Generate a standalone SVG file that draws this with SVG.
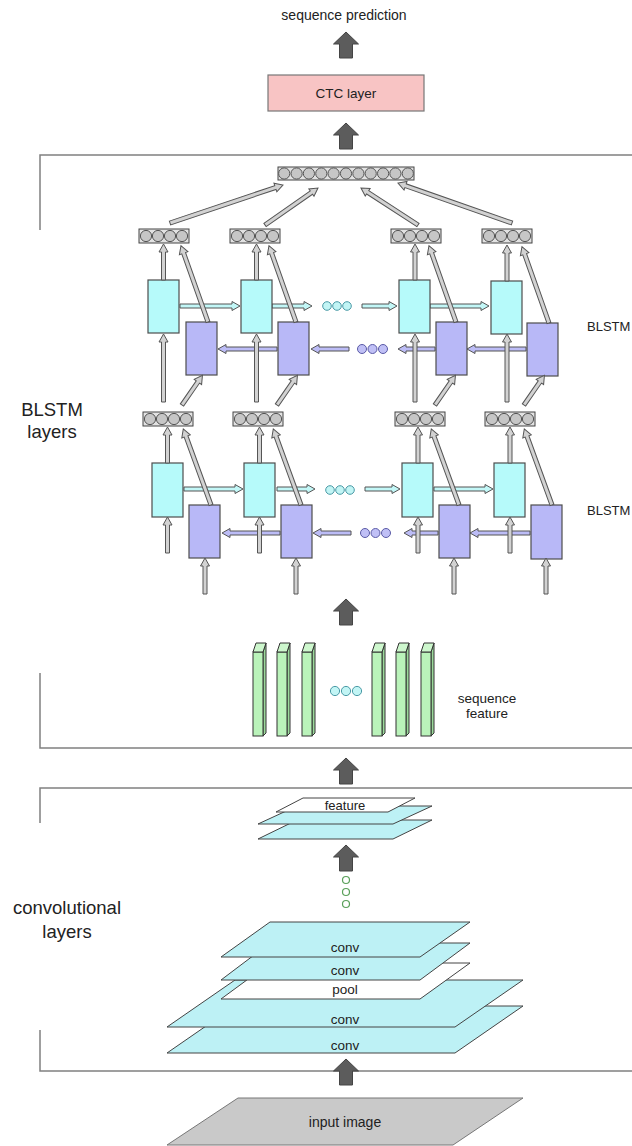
<svg xmlns="http://www.w3.org/2000/svg" xmlns:xlink="http://www.w3.org/1999/xlink" width="632" height="1146" viewBox="0 0 632 1146">
<style>
.t{font-family:"Liberation Sans",Arial,sans-serif;fill:#222;text-anchor:middle}
.ga{fill:#d2d2d2;stroke:#555;stroke-width:1}
.ca{fill:#c2f7f7;stroke:#555;stroke-width:1}
.pa{fill:#bcbcf6;stroke:#555;stroke-width:1}
.da{fill:#5c5c5c;stroke:#444;stroke-width:1}
.cc{fill:#b6fafa;stroke:#4d4d4d;stroke-width:1.2}
.pc{fill:#b8b8f7;stroke:#4d4d4d;stroke-width:1.2}
.vec{fill:#e2e2e2;stroke:#444;stroke-width:1}
.dot{fill:#c6c6c6;stroke:#555;stroke-width:1}
.fr{fill:none;stroke:#808080;stroke-width:1.5}
.plc{fill:#bdf1f5;stroke:#444;stroke-width:1}
.plw{fill:#fff;stroke:#444;stroke-width:1}
.gf{fill:#baf3ba;stroke:#333;stroke-width:1}
.gt{fill:#cdf7cd;stroke:#333;stroke-width:1}
.gs{fill:#9bd99b;stroke:#333;stroke-width:1}
.ce{fill:#c2f5f5;stroke:#4a9aa6;stroke-width:1}
.pe{fill:#c0c0f6;stroke:#5a5aa6;stroke-width:1}
.ge{fill:#fff;stroke:#5aa05a;stroke-width:1.2}
</style>
<defs>
<path id="darr" class="da" d="M-12.5 12L0 0L12.5 12H6.5V26H-6.5V12Z"/>
<path id="g36" class="ga" d="M0 -2H28V-4.5L36 0L28 4.5V2H0Z"/>
<path id="g68" class="ga" d="M0 -2H60V-4.5L68 0L60 4.5V2H0Z"/>
<path id="g81" class="ga" d="M0 -2H73V-4.5L81 0L73 4.5V2H0Z"/>
</defs>

<g id="frames">
<path class="fr" d="M40 230V155H632"/>
<path class="fr" d="M40 673V748H632"/>
<path class="fr" d="M40 823V788H632"/>
<path class="fr" d="M40 1030V1071H632"/>
</g>

<g id="labels">
<text class="t" x="344" y="20" font-size="14">sequence prediction</text>
<text class="t" x="52" y="416" font-size="18.5">BLSTM</text>
<text class="t" x="52" y="438" font-size="18.5">layers</text>
<text class="t" x="587" y="331" font-size="13" style="text-anchor:start">BLSTM</text>
<text class="t" x="587" y="515" font-size="13" style="text-anchor:start">BLSTM</text>
<text class="t" x="487" y="703" font-size="13.5">sequence</text>
<text class="t" x="487" y="718" font-size="13.5">feature</text>
<text class="t" x="67" y="914" font-size="18.5">convolutional</text>
<text class="t" x="67" y="938" font-size="18.5">layers</text>
</g>

<g id="ctc">
<rect x="268" y="75" width="156" height="36" fill="#f8c4c4" stroke="#777" stroke-width="1.2"/>
<text class="t" x="346" y="98" font-size="13.5">CTC layer</text>
</g>

<g id="bigArrows">
<use xlink:href="#darr" transform="translate(346 32)"/>
<use xlink:href="#darr" transform="translate(346 123)"/>
<use xlink:href="#darr" transform="translate(346 599)"/>
<use xlink:href="#darr" transform="translate(346 758)"/>
<use xlink:href="#darr" transform="translate(346 845)"/>
<use xlink:href="#darr" transform="translate(346 1059)"/>
</g>

<g id="recurrent">
<path class="ca" transform="translate(180 306)" d="M0 -2H52V-4.5L60 0L52 4.5V2H0Z"/>
<path class="ca" transform="translate(272 306)" d="M0 -2H32V-4.5L40 0L32 4.5V2H0Z"/>
<path class="ca" transform="translate(362 306)" d="M0 -2H27V-4.5L35 0L27 4.5V2H0Z"/>
<path class="ca" transform="translate(430 306)" d="M0 -2H51V-4.5L59 0L51 4.5V2H0Z"/>
<path class="pa" transform="translate(277 349) rotate(180)" d="M0 -2H51V-4.5L59 0L51 4.5V2H0Z"/>
<path class="pa" transform="translate(349 349) rotate(180)" d="M0 -2H30V-4.5L38 0L30 4.5V2H0Z"/>
<path class="pa" transform="translate(435 349) rotate(180)" d="M0 -2H29V-4.5L37 0L29 4.5V2H0Z"/>
<path class="pa" transform="translate(526 349) rotate(180)" d="M0 -2H51V-4.5L59 0L51 4.5V2H0Z"/>
<path class="ca" transform="translate(184 489)" d="M0 -2H51V-4.5L59 0L51 4.5V2H0Z"/>
<path class="ca" transform="translate(277 489)" d="M0 -2H30V-4.5L38 0L30 4.5V2H0Z"/>
<path class="ca" transform="translate(365 489)" d="M0 -2H27V-4.5L35 0L27 4.5V2H0Z"/>
<path class="ca" transform="translate(434 489)" d="M0 -2H51V-4.5L59 0L51 4.5V2H0Z"/>
<path class="pa" transform="translate(280 533) rotate(180)" d="M0 -2H50V-4.5L58 0L50 4.5V2H0Z"/>
<path class="pa" transform="translate(351 533) rotate(180)" d="M0 -2H30V-4.5L38 0L30 4.5V2H0Z"/>
<path class="pa" transform="translate(438 533) rotate(180)" d="M0 -2H26V-4.5L34 0L26 4.5V2H0Z"/>
<path class="pa" transform="translate(530 533) rotate(180)" d="M0 -2H52V-4.5L60 0L52 4.5V2H0Z"/>
</g>

<g id="ellipses">
<circle class="ce" cx="327" cy="306" r="4.3"/><circle class="ce" cx="337" cy="306" r="4.3"/><circle class="ce" cx="347" cy="306" r="4.3"/>
<circle class="pe" cx="362" cy="349" r="4.5"/><circle class="pe" cx="372.5" cy="349" r="4.5"/><circle class="pe" cx="383" cy="349" r="4.5"/>
<circle class="ce" cx="330" cy="490" r="4.3"/><circle class="ce" cx="340" cy="490" r="4.3"/><circle class="ce" cx="350" cy="490" r="4.3"/>
<circle class="pe" cx="365" cy="533" r="4.5"/><circle class="pe" cx="375.5" cy="533" r="4.5"/><circle class="pe" cx="386" cy="533" r="4.5"/>
<circle class="ce" cx="335" cy="691" r="4.6"/><circle class="ce" cx="346" cy="691" r="4.6"/><circle class="ce" cx="357" cy="691" r="4.6"/>
<circle class="ge" cx="346" cy="880" r="3.5"/><circle class="ge" cx="346" cy="892" r="3.5"/><circle class="ge" cx="346" cy="904" r="3.5"/>
</g>

<g id="cellsUpper">
<rect class="cc" x="148" y="280" width="31" height="53"/>
<rect class="cc" x="241" y="280" width="31" height="53"/>
<rect class="cc" x="399" y="280" width="31" height="53"/>
<rect class="cc" x="491" y="281" width="31" height="53"/>
<rect class="pc" x="186" y="322" width="31" height="53"/>
<rect class="pc" x="278" y="322" width="31" height="53"/>
<rect class="pc" x="436" y="322" width="31" height="53"/>
<rect class="pc" x="527" y="323" width="31" height="53"/>
</g>
<g id="cellsLower">
<rect class="cc" x="152" y="463" width="31" height="54"/>
<rect class="cc" x="244" y="463" width="31" height="54"/>
<rect class="cc" x="402" y="463" width="31" height="54"/>
<rect class="cc" x="494" y="463" width="31" height="54"/>
<rect class="pc" x="189" y="505" width="31" height="53"/>
<rect class="pc" x="281" y="505" width="31" height="53"/>
<rect class="pc" x="439" y="505" width="31" height="53"/>
<rect class="pc" x="531" y="505" width="31" height="54"/>
</g>

<g id="vecTop">
<rect class="vec" x="278" y="167" width="136" height="13"/>
<circle class="dot" cx="284.2" cy="173.5" r="5.6"/><circle class="dot" cx="296.6" cy="173.5" r="5.6"/><circle class="dot" cx="308.9" cy="173.5" r="5.6"/><circle class="dot" cx="321.3" cy="173.5" r="5.6"/><circle class="dot" cx="333.6" cy="173.5" r="5.6"/><circle class="dot" cx="346" cy="173.5" r="5.6"/><circle class="dot" cx="358.4" cy="173.5" r="5.6"/><circle class="dot" cx="370.7" cy="173.5" r="5.6"/><circle class="dot" cx="383.1" cy="173.5" r="5.6"/><circle class="dot" cx="395.4" cy="173.5" r="5.6"/><circle class="dot" cx="407.8" cy="173.5" r="5.6"/>
</g>
<g id="vecUpper">
<g transform="translate(139 229)"><rect class="vec" width="50" height="14"/><circle class="dot" cx="7" cy="7" r="5.6"/><circle class="dot" cx="19" cy="7" r="5.6"/><circle class="dot" cx="31" cy="7" r="5.6"/><circle class="dot" cx="43" cy="7" r="5.6"/></g>
<g transform="translate(230 229)"><rect class="vec" width="50" height="14"/><circle class="dot" cx="7" cy="7" r="5.6"/><circle class="dot" cx="19" cy="7" r="5.6"/><circle class="dot" cx="31" cy="7" r="5.6"/><circle class="dot" cx="43" cy="7" r="5.6"/></g>
<g transform="translate(391 229)"><rect class="vec" width="50" height="14"/><circle class="dot" cx="7" cy="7" r="5.6"/><circle class="dot" cx="19" cy="7" r="5.6"/><circle class="dot" cx="31" cy="7" r="5.6"/><circle class="dot" cx="43" cy="7" r="5.6"/></g>
<g transform="translate(482 229)"><rect class="vec" width="50" height="14"/><circle class="dot" cx="7" cy="7" r="5.6"/><circle class="dot" cx="19" cy="7" r="5.6"/><circle class="dot" cx="31" cy="7" r="5.6"/><circle class="dot" cx="43" cy="7" r="5.6"/></g>
</g>
<g id="vecLower">
<g transform="translate(143 412)"><rect class="vec" width="50" height="14"/><circle class="dot" cx="7" cy="7" r="5.6"/><circle class="dot" cx="19" cy="7" r="5.6"/><circle class="dot" cx="31" cy="7" r="5.6"/><circle class="dot" cx="43" cy="7" r="5.6"/></g>
<g transform="translate(233 412)"><rect class="vec" width="50" height="14"/><circle class="dot" cx="7" cy="7" r="5.6"/><circle class="dot" cx="19" cy="7" r="5.6"/><circle class="dot" cx="31" cy="7" r="5.6"/><circle class="dot" cx="43" cy="7" r="5.6"/></g>
<g transform="translate(395 412)"><rect class="vec" width="50" height="14"/><circle class="dot" cx="7" cy="7" r="5.6"/><circle class="dot" cx="19" cy="7" r="5.6"/><circle class="dot" cx="31" cy="7" r="5.6"/><circle class="dot" cx="43" cy="7" r="5.6"/></g>
<g transform="translate(485 412)"><rect class="vec" width="50" height="14"/><circle class="dot" cx="7" cy="7" r="5.6"/><circle class="dot" cx="19" cy="7" r="5.6"/><circle class="dot" cx="31" cy="7" r="5.6"/><circle class="dot" cx="43" cy="7" r="5.6"/></g>
</g>

<g id="connectors">
<path class="ga" transform="translate(170 223) rotate(-18.6)" d="M0 -2H111.2V-4.5L119.2 0L111.2 4.5V2H0Z"/>
<path class="ga" transform="translate(265 225) rotate(-34.9)" d="M0 -2H56.6V-4.5L64.6 0L56.6 4.5V2H0Z"/>
<use xlink:href="#g68" transform="translate(418 225) rotate(-147)"/>
<path class="ga" transform="translate(512 223) rotate(-160.7)" d="M0 -2H112.8V-4.5L120.8 0L112.8 4.5V2H0Z"/>

<use xlink:href="#g36" transform="translate(163.5 280) rotate(-90)"/>
<use xlink:href="#g36" transform="translate(256.5 280) rotate(-90)"/>
<use xlink:href="#g36" transform="translate(415 280) rotate(-90)"/>
<use xlink:href="#g36" transform="translate(507 281) rotate(-90)"/>
<use xlink:href="#g81" transform="translate(208 322) rotate(-109.5)"/>
<use xlink:href="#g81" transform="translate(296 322) rotate(-109.5)"/>
<use xlink:href="#g81" transform="translate(456 322) rotate(-109.5)"/>
<use xlink:href="#g81" transform="translate(549 323) rotate(-109.5)"/>

<use xlink:href="#g68" transform="translate(163.5 402) rotate(-90)"/>
<use xlink:href="#g68" transform="translate(256.5 402) rotate(-90)"/>
<use xlink:href="#g68" transform="translate(415 402) rotate(-90)"/>
<use xlink:href="#g68" transform="translate(507 402) rotate(-90)"/>
<use xlink:href="#g36" transform="translate(182 405) rotate(-55.4)"/>
<use xlink:href="#g36" transform="translate(277 405) rotate(-55.4)"/>
<use xlink:href="#g36" transform="translate(435 405) rotate(-55.4)"/>
<use xlink:href="#g36" transform="translate(524 405) rotate(-55.4)"/>

<use xlink:href="#g36" transform="translate(167.5 463) rotate(-90)"/>
<use xlink:href="#g36" transform="translate(259.5 463) rotate(-90)"/>
<use xlink:href="#g36" transform="translate(418 463) rotate(-90)"/>
<use xlink:href="#g36" transform="translate(510 463) rotate(-90)"/>
<use xlink:href="#g81" transform="translate(211 505) rotate(-110)"/>
<use xlink:href="#g81" transform="translate(301 505) rotate(-110)"/>
<use xlink:href="#g81" transform="translate(459 505) rotate(-110)"/>
<use xlink:href="#g81" transform="translate(552 505) rotate(-110)"/>

<use xlink:href="#g36" transform="translate(167.5 553) rotate(-90)"/>
<use xlink:href="#g36" transform="translate(259.5 553) rotate(-90)"/>
<use xlink:href="#g36" transform="translate(418 553) rotate(-90)"/>
<use xlink:href="#g36" transform="translate(510 553) rotate(-90)"/>
<use xlink:href="#g36" transform="translate(205 594) rotate(-90)"/>
<use xlink:href="#g36" transform="translate(296 594) rotate(-90)"/>
<use xlink:href="#g36" transform="translate(454 594) rotate(-90)"/>
<use xlink:href="#g36" transform="translate(546 594) rotate(-90)"/>
</g>

<g id="seqFeature">
<g transform="translate(253 0)"><path class="gs" d="M10 652L13 643V733L10 736Z"/><rect class="gf" x="0" y="652" width="10" height="84"/><path class="gt" d="M0 652L3 643H13L10 652Z"/></g>
<g transform="translate(277 0)"><path class="gs" d="M10 652L13 643V733L10 736Z"/><rect class="gf" x="0" y="652" width="10" height="84"/><path class="gt" d="M0 652L3 643H13L10 652Z"/></g>
<g transform="translate(302 0)"><path class="gs" d="M10 652L13 643V733L10 736Z"/><rect class="gf" x="0" y="652" width="10" height="84"/><path class="gt" d="M0 652L3 643H13L10 652Z"/></g>
<g transform="translate(372 0)"><path class="gs" d="M10 652L13 643V733L10 736Z"/><rect class="gf" x="0" y="652" width="10" height="84"/><path class="gt" d="M0 652L3 643H13L10 652Z"/></g>
<g transform="translate(396 0)"><path class="gs" d="M10 652L13 643V733L10 736Z"/><rect class="gf" x="0" y="652" width="10" height="84"/><path class="gt" d="M0 652L3 643H13L10 652Z"/></g>
<g transform="translate(421 0)"><path class="gs" d="M10 652L13 643V733L10 736Z"/><rect class="gf" x="0" y="652" width="10" height="84"/><path class="gt" d="M0 652L3 643H13L10 652Z"/></g>
</g>

<g id="featureStack">
<path class="plc" d="M258 839H393L432 820H297Z"/>
<path class="plc" d="M258 824H393L432 806H297Z"/>
<path class="plw" d="M276 812H388L415 798H303Z"/>
<text class="t" x="345" y="809.5" font-size="13">feature</text>
</g>

<g id="convLayers">
<path class="plc" d="M167 1053H455L523 1006H235Z"/>
<text class="t" x="345" y="1050" font-size="13.5">conv</text>
<path class="plc" d="M167 1027H455L523 980H235Z"/>
<text class="t" x="345" y="1024" font-size="13.5">conv</text>
<path class="plw" d="M221 999H420L470 963H270Z"/>
<text class="t" x="345" y="994" font-size="13.5">pool</text>
<path class="plc" d="M221 980H420L470 943H270Z"/>
<text class="t" x="345" y="975" font-size="13.5">conv</text>
<path class="plc" d="M221 957H420L470 922H270Z"/>
<text class="t" x="345" y="952" font-size="13.5">conv</text>
</g>

<g id="inputImage">
<path d="M167 1145H453L523 1098H238Z" fill="#c9c9c9" stroke="#777" stroke-width="1"/>
<text class="t" x="345" y="1127" font-size="14">input image</text>
</g>
</svg>
